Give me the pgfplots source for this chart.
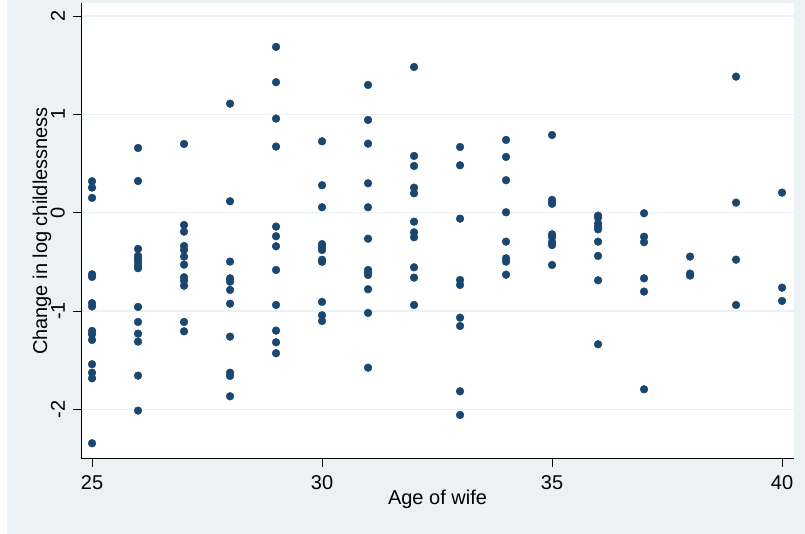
\documentclass[border=0pt]{standalone}
\usepackage{fontspec}
\setmainfont{Liberation Sans}
\usepackage{pgfplots}
\pgfplotsset{compat=1.18}
\definecolor{bgc}{HTML}{EAF2F3}
\definecolor{stnavy}{HTML}{1A476F}
\definecolor{gridc}{HTML}{EAF2F3}
\begin{document}
\fontsize{20pt}{24pt}\selectfont
\begin{tikzpicture}[x=1pt,y=1pt]
\fill[bgc] (7,0) rectangle (805,534);
\begin{axis}[
 at={(81pt,75pt)}, anchor=south west,
 scale only axis, width=713pt, height=456pt,
 xmin=24.76, xmax=40.26, ymin=-2.506, ymax=2.133,
 axis x line*=bottom, axis y line*=left,
 axis background/.style={fill=white},
 xtick={25,30,35,40}, ytick={-2,-1,0,1,2},
 ymajorgrids, grid style={gridc, line width=1.5pt},
 tick align=outside, major tick length=8pt,
 tick style={black, line width=0.8pt},
 axis line style={black, line width=1pt, -},
 /pgf/number format/assume math mode=true,
 ticklabel style={font=\fontsize{20pt}{24pt}\selectfont},
 xticklabel style={anchor=north, inner sep=0pt, yshift=-8pt},
 yticklabel style={rotate=90, anchor=south, inner sep=0pt, yshift=8pt},
 xlabel={Age of wife},
 ylabel={Change in log childlessness},
 label style={font=\fontsize{20pt}{24pt}\selectfont},
 xlabel style={at={(axis description cs:0.5,0)}, anchor=base, yshift=-46pt, inner sep=0pt},
 ylabel style={at={(axis description cs:0,0.5)}, rotate=0, anchor=base, yshift=34pt, inner sep=0pt},
 clip=false,
]
\addplot[only marks, mark=*, mark size=3.9pt, mark options={fill=stnavy, draw=stnavy, line width=0.4pt}] table {
x y
25 0.32
25 0.255
25 0.15
25 -0.627
25 -0.654
25 -0.92
25 -0.954
25 -1.203
25 -1.237
25 -1.295
25 -1.542
25 -1.628
25 -1.685
25 -2.346
26 0.658
26 0.322
26 -0.369
26 -0.44
26 -0.47
26 -0.50
26 -0.535
26 -0.565
26 -0.959
26 -1.112
26 -1.231
26 -1.312
26 -1.658
26 -2.014
27 0.699
27 -0.125
27 -0.193
27 -0.339
27 -0.379
27 -0.447
27 -0.529
27 -0.657
27 -0.692
27 -0.743
27 -1.112
27 -1.207
28 1.109
28 0.116
28 -0.498
28 -0.668
28 -0.702
28 -0.786
28 -0.926
28 -1.261
28 -1.628
28 -1.661
28 -1.868
29 1.686
29 1.327
29 0.957
29 0.672
29 -0.142
29 -0.24
29 -0.342
29 -0.583
29 -0.939
29 -1.2
29 -1.319
29 -1.43
30 0.726
30 0.279
30 0.055
30 -0.32
30 -0.35
30 -0.38
30 -0.48
30 -0.50
30 -0.908
30 -1.044
30 -1.102
31 1.299
31 0.943
31 0.702
31 0.299
31 0.055
31 -0.265
31 -0.583
31 -0.61
31 -0.634
31 -0.779
31 -1.02
31 -1.577
32 1.482
32 0.577
32 0.475
32 0.254
32 0.197
32 -0.092
32 -0.2
32 -0.25
32 -0.556
32 -0.661
32 -0.939
33 0.668
33 0.482
33 -0.061
33 -0.685
33 -0.735
33 -1.068
33 -1.153
33 -1.817
33 -2.058
34 0.74
34 0.567
34 0.33
34 0.004
34 -0.295
34 -0.464
34 -0.498
34 -0.631
35 0.79
35 0.13
35 0.11
35 0.09
35 -0.22
35 -0.25
35 -0.30
35 -0.33
35 -0.532
36 -0.03
36 -0.05
36 -0.11
36 -0.14
36 -0.17
36 -0.295
36 -0.44
36 -0.688
36 -1.339
37 -0.006
37 -0.245
37 -0.30
37 -0.668
37 -0.803
37 -1.797
38 -0.447
38 -0.62
38 -0.64
39 1.384
39 0.102
39 -0.478
39 -0.939
40 0.204
40 -0.763
40 -0.898
};
\end{axis}
\pgfresetboundingbox
\path (0,0) rectangle (805,534);
\end{tikzpicture}
\end{document}
